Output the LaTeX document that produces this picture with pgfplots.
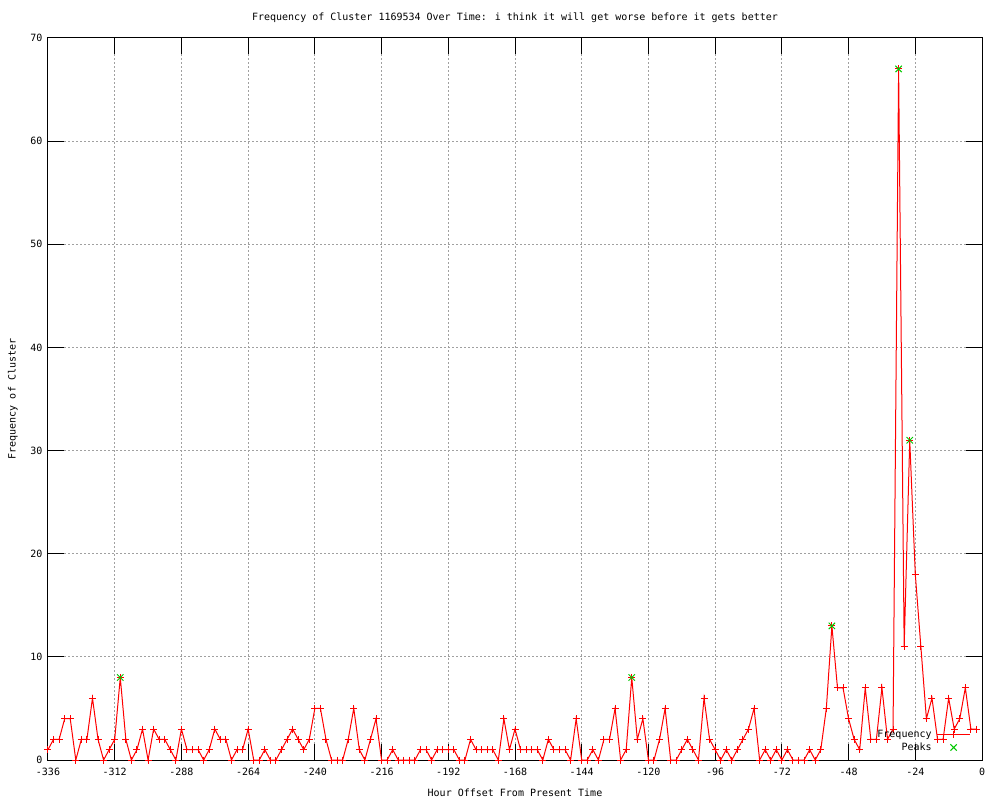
\documentclass[border=0pt]{standalone}
\usepackage{fontspec}
\setmainfont{DejaVu Sans Mono}
\usepackage{pgfplots}
\pgfplotsset{compat=1.18}
\usepackage{pgfplotstable}

\definecolor{gpred}{RGB}{255,0,0}
\definecolor{gpgreen}{RGB}{0,200,0}
\definecolor{gpgrid}{RGB}{160,160,160}

% legend samples drawn like gnuplot's key
\pgfplotsset{
  freqleg/.code={\pgfplotsset{legend image code/.code={\draw[##1, mark repeat=2, mark phase=2]
    plot coordinates {(0pt,0pt) (16.5pt,0pt) (33pt,0pt)};}}},
  peakleg/.code={\pgfplotsset{legend image code/.code={\draw[##1]
    plot coordinates {(16.5pt,0pt)};}}},
}

% hourly offsets (every 2 h) and cluster frequency
\pgfplotstableread{
h f
-336 1
-334 2
-332 2
-330 4
-328 4
-326 0
-324 2
-322 2
-320 6
-318 2
-316 0
-314 1
-312 2
-310 8
-308 2
-306 0
-304 1
-302 3
-300 0
-298 3
-296 2
-294 2
-292 1
-290 0
-288 3
-286 1
-284 1
-282 1
-280 0
-278 1
-276 3
-274 2
-272 2
-270 0
-268 1
-266 1
-264 3
-262 0
-260 0
-258 1
-256 0
-254 0
-252 1
-250 2
-248 3
-246 2
-244 1
-242 2
-240 5
-238 5
-236 2
-234 0
-232 0
-230 0
-228 2
-226 5
-224 1
-222 0
-220 2
-218 4
-216 0
-214 0
-212 1
-210 0
-208 0
-206 0
-204 0
-202 1
-200 1
-198 0
-196 1
-194 1
-192 1
-190 1
-188 0
-186 0
-184 2
-182 1
-180 1
-178 1
-176 1
-174 0
-172 4
-170 1
-168 3
-166 1
-164 1
-162 1
-160 1
-158 0
-156 2
-154 1
-152 1
-150 1
-148 0
-146 4
-144 0
-142 0
-140 1
-138 0
-136 2
-134 2
-132 5
-130 0
-128 1
-126 8
-124 2
-122 4
-120 0
-118 0
-116 2
-114 5
-112 0
-110 0
-108 1
-106 2
-104 1
-102 0
-100 6
-98 2
-96 1
-94 0
-92 1
-90 0
-88 1
-86 2
-84 3
-82 5
-80 0
-78 1
-76 0
-74 1
-72 0
-70 1
-68 0
-66 0
-64 0
-62 1
-60 0
-58 1
-56 5
-54 13
-52 7
-50 7
-48 4
-46 2
-44 1
-42 7
-40 2
-38 2
-36 7
-34 2
-32 3
-30 67
-28 11
-26 31
-24 18
-22 11
-20 4
-18 6
-16 2
-14 2
-12 6
-10 3
-8 4
-6 7
-4 3
-2 3
}\freqdata

\pgfplotstableread{
h f
-310 8
-126 8
-54 13
-30 67
-26 31
}\peakdata

\begin{document}
\begin{tikzpicture}
\begin{axis}[
  scale only axis,
  width=934pt, height=722pt,
  xmin=-336, xmax=0, ymin=0, ymax=70,
  xtick={-336,-312,...,0},
  ytick={0,10,...,70},
  /pgf/number format/assume math mode=true,
  tick align=inside,
  major tick length=16pt,
  tick style={black, line width=1pt},
  axis line style={black, line width=1pt},
  grid=major,
  grid style={gpgrid, line width=1pt, dash pattern=on 2pt off 2pt},
  clip=false,
  title={Frequency of Cluster 1169534 Over Time: i think it will get worse before it gets better},
  title style={at={(axis description cs:0.5,1)}, anchor=center, yshift=14pt},
  xlabel={Hour Offset From Present Time},
  xlabel style={at={(axis description cs:0.5,0)}, anchor=center, yshift=-33pt},
  ylabel={Frequency of Cluster},
  ylabel style={at={(axis description cs:-0.0375,0.5)}, anchor=center},
  xticklabel style={yshift=-5pt},
  yticklabel style={xshift=-2pt},
  legend cell align=right,
  legend plot pos=right,
  legend style={draw=none, fill=none, inner sep=0pt, row sep=0pt,
    column sep=3pt,
    at={(rel axis cs:0.988,0.008)}, anchor=south east, font=\normalsize},
]
\addplot[color=gpred, line width=1pt, mark=+, mark size=3.5pt,
  mark options={solid, draw=gpred, line width=1pt}, freqleg]
  table[x=h, y=f] {\freqdata};
\addlegendentry{Frequency}
\addplot[color=gpgreen, only marks, mark=x, mark size=4.5pt,
  mark options={draw=gpgreen, line width=1pt}, peakleg]
  table[x=h, y=f] {\peakdata};
\addlegendentry{Peaks}
\end{axis}
\pgfresetboundingbox
\path[use as bounding box] (-48pt,-40pt) rectangle (952pt,760pt);
\end{tikzpicture}
\end{document}
